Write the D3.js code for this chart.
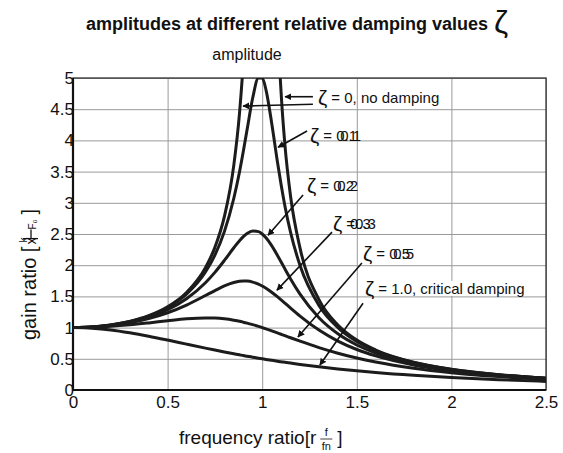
<!DOCTYPE html>
<html>
<head>
<meta charset="utf-8">
<script src="https://cdn.jsdelivr.net/npm/d3@7"></script>
<style>
  body { margin: 0; background: #fff; }
  text { font-family: "Liberation Sans", Arial, sans-serif; fill: #111; }
</style>
</head>
<body>
<div id="chart"></div>
<script>
// frequency ratio r = f / fn
var ratios = [0, 0.1, 0.2, 0.3, 0.4, 0.5, 0.6, 0.7, 0.75, 0.8, 0.85, 0.88, 0.9, 0.92, 0.95, 0.98, 1.0,
              1.02, 1.05, 1.08, 1.1, 1.12, 1.15, 1.2, 1.3, 1.4, 1.5, 1.6, 1.8, 2.0, 2.25, 2.5];

// gain ratio (null = off the chart)
var zeta0   = [1, 1.010, 1.042, 1.099, 1.190, 1.333, 1.563, 1.961, 2.286, 2.778, 3.604, 4.433, 5.263, 6.510, 10.26, 25.3, null,
               24.8, 9.76, 6.01, 4.762, 3.931, 3.101, 2.273, 1.449, 1.042, 0.800, 0.641, 0.446, 0.333, 0.246, 0.190];
var zeta01  = [1, 1.010, 1.041, 1.097, 1.185, 1.322, 1.536, 1.891, 2.162, 2.538, 3.073, 3.494, 3.821, 4.170, 4.683, 5.0, 5.0,
               4.81, 4.280, 3.667, 3.288, 2.950, 2.525, 1.995, 1.356, 1.000, 0.778, 0.628, 0.441, 0.330, 0.245, 0.190];
var zeta02  = [1, 1.009, 1.038, 1.089, 1.169, 1.288, 1.463, 1.719, 1.885, 2.076, 2.279, 2.392, 2.457, 2.508, 2.549, 2.538, 2.5,
               2.439, 2.313, 2.160, 2.051, 1.941, 1.780, 1.536, 1.157, 0.900, 0.721, 0.593, 0.425, 0.322, 0.240, 0.187];
var zeta03  = [1, 1.008, 1.034, 1.078, 1.145, 1.238, 1.362, 1.514, 1.593, 1.667, 1.722, 1.742, 1.747, 1.745, 1.729, 1.697, 1.667,
               1.631, 1.567, 1.495, 1.444, 1.392, 1.313, 1.185, 0.960, 0.784, 0.649, 0.546, 0.402, 0.309, 0.234, 0.183];
var zeta05  = [1, 1.005, 1.020, 1.044, 1.075, 1.109, 1.140, 1.155, 1.152, 1.140, 1.118, 1.101, 1.087, 1.072, 1.047, 1.020, 1.0,
               0.980, 0.948, 0.915, 0.893, 0.871, 0.837, 0.782, 0.679, 0.589, 0.512, 0.448, 0.348, 0.277, 0.215, 0.172];
var zeta10  = [1, 0.990, 0.962, 0.917, 0.862, 0.800, 0.735, 0.671, 0.640, 0.610, 0.581, 0.564, 0.552, 0.542, 0.526, 0.510, 0.5,
               0.490, 0.476, 0.462, 0.452, 0.444, 0.431, 0.410, 0.372, 0.338, 0.308, 0.281, 0.236, 0.200, 0.165, 0.138];

var allSeries = [zeta0, zeta01, zeta02, zeta03, zeta05, zeta10];

var xTicks = [0, 0.5, 1, 1.5, 2, 2.5];
var yTicks = [0, 0.5, 1, 1.5, 2, 2.5, 3, 3.5, 4, 4.5, 5];

// annotations: value text, overprint copy, label spot and arrows (data coords)
var noteText   = ["= 0, no damping", "= 0.1", "= 0.2", "=0.3", "= 0.5", "= 1.0, critical damping"];
var noteGhost  = [null, ["0.1", 4], ["0.2", 4], ["0.3", -5], ["0.5", 4], null];
var noteAt     = [[1.295, 4.60], [1.253, 3.99], [1.237, 3.19], [1.374, 2.58], [1.533, 2.10], [1.543, 1.54]];
var noteArrows = [
  [[[1.268, 4.70], [1.121, 4.70]], [[1.268, 4.58], [0.899, 4.55]]],
  [[[1.237, 4.15], [1.084, 3.89]]],
  [[[1.216, 3.125], [1.031, 2.48]]],
  [[[1.369, 2.53], [1.078, 1.60]]],
  [[[1.527, 2.035], [1.189, 0.85]]],
  [[[1.533, 1.39], [1.305, 0.40]]]
];

var width = 563, height = 453;
var plotL = 73, plotR = 546, plotT = 78, plotB = 390;

var svg = d3.select("#chart").append("svg")
    .attr("width", width)
    .attr("height", height);

var x = d3.scaleLinear().domain([0, 2.5]).range([plotL, plotR]);
var y = d3.scaleLinear().domain([0, 5]).range([plotB, plotT]);

var defs = svg.append("defs");
defs.append("clipPath").attr("id", "plotclip")
    .append("rect")
    .attr("x", plotL).attr("y", plotT)
    .attr("width", plotR - plotL).attr("height", plotB - plotT);

defs.append("marker")
    .attr("id", "arrow")
    .attr("viewBox", "0 0 10 10")
    .attr("refX", 9).attr("refY", 5)
    .attr("markerWidth", 7).attr("markerHeight", 7)
    .attr("markerUnits", "userSpaceOnUse")
    .attr("orient", "auto")
    .append("path")
    .attr("d", "M0,0 L10,5 L0,10 z")
    .attr("fill", "#111");

// grid
svg.append("g")
    .attr("transform", "translate(0," + plotB + ")")
    .call(d3.axisBottom(x).tickValues(xTicks).tickSize(-(plotB - plotT)).tickFormat(""))
    .call(function (g) { g.select(".domain").remove(); })
    .selectAll("line").attr("stroke", "#9a9a9a").attr("stroke-width", 1);

svg.append("g")
    .attr("transform", "translate(" + plotL + ",0)")
    .call(d3.axisLeft(y).tickValues(yTicks).tickSize(-(plotR - plotL)).tickFormat(""))
    .call(function (g) { g.select(".domain").remove(); })
    .selectAll("line").attr("stroke", "#9a9a9a").attr("stroke-width", 1);

// frame
svg.append("rect")
    .attr("x", plotL).attr("y", plotT)
    .attr("width", plotR - plotL).attr("height", plotB - plotT)
    .attr("fill", "none").attr("stroke", "#333").attr("stroke-width", 1.3);
svg.append("line")
    .attr("x1", plotL).attr("x2", plotL).attr("y1", plotT).attr("y2", plotB + 1)
    .attr("stroke", "#111").attr("stroke-width", 2.2);
svg.append("line")
    .attr("x1", plotL - 1).attr("x2", plotR).attr("y1", plotB).attr("y2", plotB)
    .attr("stroke", "#111").attr("stroke-width", 2.2);

// tick labels
svg.append("g")
    .attr("transform", "translate(0," + plotB + ")")
    .call(d3.axisBottom(x).tickValues(xTicks).tickSize(0).tickPadding(6).tickFormat(d3.format("")))
    .call(function (g) { g.select(".domain").remove(); })
    .selectAll("text").style("font-size", "17px").style("font-family", "Liberation Sans, Arial").attr("fill", "#111");

svg.append("g")
    .attr("transform", "translate(" + (plotL + 1) + ",0)")
    .call(d3.axisLeft(y).tickValues(yTicks).tickSize(0).tickPadding(0).tickFormat(d3.format("")))
    .call(function (g) { g.select(".domain").remove(); })
    .selectAll("text").style("font-size", "17px").style("font-family", "Liberation Sans, Arial").attr("fill", "#111");

// curves
var line = d3.line()
    .defined(function (d) { return d[1] != null; })
    .curve(d3.curveMonotoneX)
    .x(function (d) { return x(d[0]); })
    .y(function (d) { return y(d[1]); });

svg.append("g").attr("clip-path", "url(#plotclip)")
    .selectAll("path")
    .data(allSeries)
    .enter().append("path")
    .attr("d", function (s) { return line(ratios.map(function (r, i) { return [r, s[i]]; })); })
    .attr("fill", "none")
    .attr("stroke", "#1c1c1c")
    .attr("stroke-width", 3)
    .attr("stroke-linejoin", "round");

// arrows
noteArrows.forEach(function (list) {
    list.forEach(function (a) {
        svg.append("line")
            .attr("x1", x(a[0][0])).attr("y1", y(a[0][1]))
            .attr("x2", x(a[1][0])).attr("y2", y(a[1][1]))
            .attr("stroke", "#111").attr("stroke-width", 1.6)
            .attr("marker-end", "url(#arrow)");
    });
});

// labels
noteText.forEach(function (t, i) {
    var g = svg.append("g")
        .attr("transform", "translate(" + x(noteAt[i][0]) + "," + y(noteAt[i][1]) + ")");
    var txt = g.append("text").style("font-size", "15px");
    txt.append("tspan").text("ζ").style("font-size", "21px").attr("dy", 2);
    var val = txt.append("tspan").attr("dx", 4).attr("dy", -2).text(t);
    if (i == 5) {
        var bb = txt.node().getBBox();
        g.insert("rect", "text")
            .attr("x", bb.x - 2).attr("y", bb.y + 4)
            .attr("width", bb.width + 4).attr("height", bb.height - 8)
            .attr("fill", "#fff");
    }
    if (noteGhost[i]) {
        var vb = val.node().getBBox();
        var ghost = g.append("text").style("font-size", "15px").text(noteGhost[i][0]);
        var gw = ghost.node().getComputedTextLength();
        ghost.attr("x", vb.x + vb.width - gw + noteGhost[i][1]);
    }
});

// title
var title = svg.append("text")
    .attr("x", 86).attr("y", 30);
title.append("tspan").text("amplitudes at different relative damping values")
    .style("font-size", "18px").style("font-weight", "bold");
title.append("tspan").attr("dx", 6).text("ζ")
    .style("font-size", "32px").attr("dy", 3);

svg.append("text")
    .attr("x", 247).attr("y", 60)
    .attr("text-anchor", "middle")
    .style("font-size", "16px")
    .text("amplitude");

// x label
var xl = svg.append("text")
    .attr("x", 179).attr("y", 444)
    .style("font-size", "19px")
    .text("frequency ratio[r");
var xlEnd = 179 + xl.node().getComputedTextLength() + 4;
svg.append("text").attr("x", xlEnd + 6).attr("y", 436).attr("text-anchor", "middle")
    .style("font-size", "11px").text("f");
svg.append("line").attr("x1", xlEnd).attr("x2", xlEnd + 12).attr("y1", 439).attr("y2", 439)
    .attr("stroke", "#111").attr("stroke-width", 0.8);
svg.append("text").attr("x", xlEnd + 6).attr("y", 450).attr("text-anchor", "middle")
    .style("font-size", "11px").text("fn");
svg.append("text").attr("x", xlEnd + 17).attr("y", 444)
    .style("font-size", "19px").text("]");

// y label
var yl = svg.append("g").attr("transform", "translate(36,340) rotate(-90)");
var ylt = yl.append("text").style("font-size", "20px").text("gain ratio [");
var ylEnd = ylt.node().getComputedTextLength() + 2;
yl.append("text").attr("x", ylEnd).attr("y", 0).style("font-size", "14px").text("x");
yl.append("text").attr("x", ylEnd + 2).attr("y", -9).style("font-size", "10px").text("k");
yl.append("line").attr("x1", ylEnd + 6).attr("x2", ylEnd + 6).attr("y1", -13).attr("y2", 2)
    .attr("stroke", "#111").attr("stroke-width", 1.3);
yl.append("line").attr("x1", ylEnd + 6).attr("x2", ylEnd + 15).attr("y1", -5).attr("y2", -5)
    .attr("stroke", "#111").attr("stroke-width", 1.3);
yl.append("text").attr("x", ylEnd + 15).attr("y", 0).style("font-size", "10px").text("F₀");
yl.append("text").attr("x", ylEnd + 30).attr("y", 0).style("font-size", "20px").text("]");
</script>
</body>
</html>
